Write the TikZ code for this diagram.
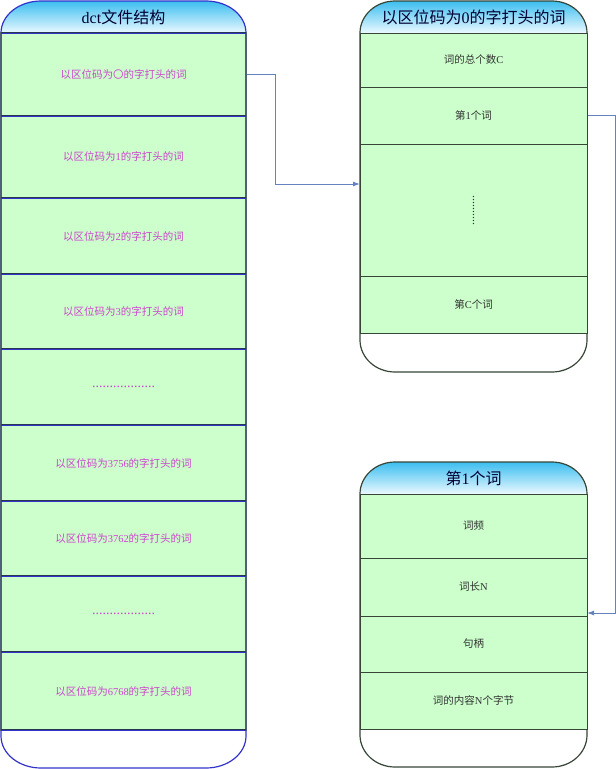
\documentclass[tikz,border=0pt]{standalone}
\usepackage{fontspec}
\setmainfont{Liberation Serif}
\newfontfamily\cjk{Noto Sans CJK SC}
\usetikzlibrary{positioning,calc,arrows.meta}
\definecolor{rowfill}{RGB}{204,255,204}
\definecolor{headtop}{RGB}{60,190,240}
\definecolor{headbot}{RGB}{235,249,255}
\definecolor{leftline}{RGB}{51,51,204}
\definecolor{leftedge}{RGB}{80,96,120}
\definecolor{leftsep}{RGB}{40,55,80}
\definecolor{rightline}{RGB}{55,70,55}
\definecolor{lefttext}{RGB}{204,68,204}
\definecolor{righttext}{RGB}{50,50,50}
\definecolor{linkcol}{RGB}{100,130,190}
\begin{document}
\begin{tikzpicture}[x=1pt,y=-1pt,
  lrow/.style={fill=rowfill,draw=leftedge,line width=1.5pt,inner sep=0pt,minimum width=245pt,
    text=lefttext,font=\fontsize{10.5}{12}\selectfont},
  rrow/.style={fill=rowfill,draw=rightline,line width=1pt,inner sep=0pt,minimum width=227pt,
    text=righttext,font=\fontsize{10.5}{12}\selectfont},
  headtext/.style={text=black!80!blue,font=\fontsize{16}{18}\selectfont},
  link/.style={draw=linkcol,line width=1pt,-{Latex[length=7pt,width=5pt]}}]
\def\zh#1{{\cjk #1}}
\def\outline#1#2#3#4#5{(#1,{#3+32}) arc[start angle=180,end angle=270,x radius=#5,y radius=32]
  -- ({#2-#5},#3) arc[start angle=270,end angle=360,x radius=#5,y radius=32]
  -- (#2,{#4-32}) arc[start angle=0,end angle=90,x radius=#5,y radius=32]
  -- ({#1+#5},#4) arc[start angle=90,end angle=180,x radius=#5,y radius=32] -- cycle}
\def\header#1#2#3#4{(#1,{#3+32}) arc[start angle=180,end angle=270,x radius=#4,y radius=32]
  -- ({#2-#4},#3) arc[start angle=270,end angle=360,x radius=#4,y radius=32] -- cycle}
\useasboundingbox (0,0) rectangle (616,769);
\fill[white] \outline{1}{246}{1}{768}{40};
\shade[top color=headtop,bottom color=headbot] \header{1}{246}{1}{40};
\draw[leftline,line width=1.2pt] \outline{1}{246}{1}{768}{40};
\node[headtext] (title) at (123.5,17) {dct\zh{文件结构}};
\foreach \n/\ya/\yb/\txt in {
  0/33/116/{\zh{以区位码为〇的字打头的词}},
  1/116/198/{\zh{以区位码为}1\zh{的字打头的词}},
  2/198/274/{\zh{以区位码为}2\zh{的字打头的词}},
  3/274/349/{\zh{以区位码为}3\zh{的字打头的词}},
  4/349/425/{\fontsize{14}{14}\selectfont ..................},
  5/425/501/{\zh{以区位码为}3756\zh{的字打头的词}},
  6/501/576/{\zh{以区位码为}3762\zh{的字打头的词}},
  7/576/652/{\fontsize{14}{14}\selectfont ..................},
  8/652/730/{\zh{以区位码为}6768\zh{的字打头的词}}}
  \node[lrow,minimum height={\yb-\ya}] (L\n) at (123.5,{(\ya+\yb)/2}) {\txt};
\foreach \y in {33,116,198,274,349,425,501,576,652,730} {
  \draw[leftsep,line width=0.8pt] (1,{\y-1}) -- (246,{\y-1});
  \draw[leftline,line width=1.6pt] (1,{\y+0.4}) -- (246,{\y+0.4});
}
\fill[white] \outline{360}{587}{1}{372}{35};
\shade[top color=headtop,bottom color=headbot] \header{360}{587}{1}{35};
\draw[rightline,line width=1.2pt] \outline{360}{587}{1}{372}{35};
\node[headtext] (block) at (473.5,17) {\zh{以区位码为}0\zh{的字打头的词}};
\foreach \n/\ya/\yb/\txt in {
  1/33/87/{\zh{词的总个数}C},
  2/87/144/{\zh{第}1\zh{个词}},
  3/144/276/{},
  4/276/333/{\zh{第}C\zh{个词}}}
  \node[rrow,minimum height={\yb-\ya}] (R\n) at (473.5,{(\ya+\yb)/2}) {\txt};
\node[rotate=90,text=righttext,font=\fontsize{12}{12}\selectfont] (more) at (R3) {..........};
\fill[white] \outline{360}{587}{462}{767}{35};
\shade[top color=headtop,bottom color=headbot] \header{360}{587}{462}{35};
\draw[rightline,line width=1.2pt] \outline{360}{587}{462}{767}{35};
\node[headtext] (word) at (473.5,478) {\zh{第}1\zh{个词}};
\foreach \n/\ya/\yb/\txt in {
  1/494/558/{\zh{词频}},
  2/558/616/{\zh{词长}N},
  3/616/672/{\zh{句柄}},
  4/672/729/{\zh{词的内容}N\zh{个字节}}}
  \node[rrow,minimum height={\yb-\ya}] (W\n) at (473.5,{(\ya+\yb)/2}) {\txt};
\coordinate (in1) at (360,184);
\coordinate (in2) at (587,613);
\draw[link] (L0.east) -- ++(29,0) |- (in1);
\draw[link] (R2.east) -- ++(28,0) |- (in2);
\end{tikzpicture}
\end{document}
